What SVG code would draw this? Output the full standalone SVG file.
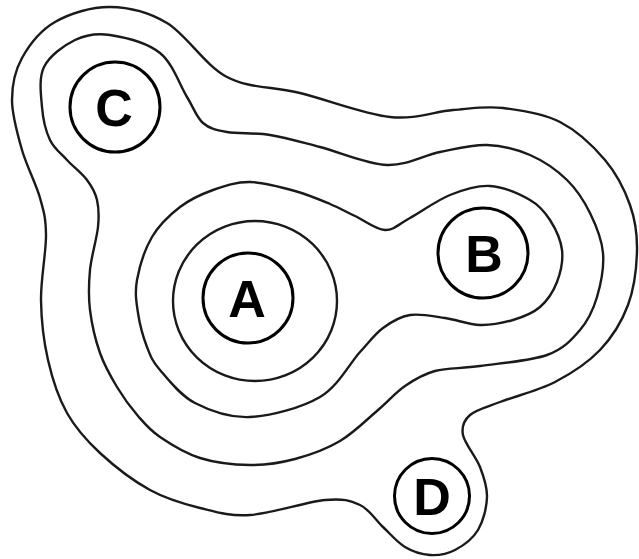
<svg xmlns="http://www.w3.org/2000/svg" width="639" height="559" viewBox="0 0 639 559">
<style>
.contour{fill:none;stroke:#1a1a1a;stroke-width:2.4;stroke-linejoin:round}
.node circle{fill:none;stroke:#000;stroke-width:3}
.node text{font-family:"Liberation Sans",Arial,sans-serif;font-weight:bold;font-size:52px;text-anchor:middle;fill:#000}
</style>
<rect width="639" height="559" fill="#fff"/>
<g id="contours">
<path id="ring4" class="contour" d="M110,7 C128.7,7.2 147.5,11.3 167,23 C186.5,34.7 204.8,65.3 227,77 C249.2,88.7 272.8,86.3 300,93 C327.2,99.7 364.5,114.2 390,117 C415.5,119.8 434.2,111.5 453,110 C471.8,108.5 485.2,106 503,108 C520.8,110 543,113.3 560,122 C577,130.7 593.3,146.2 605,160 C616.7,173.8 624.7,190 630,205 C635.3,220 637.3,233.3 637,250 C636.7,266.7 634.2,288.3 628,305 C621.8,321.7 612.2,337.2 600,350 C587.8,362.8 571.7,373.3 555,382 C538.3,390.7 514.2,396.5 500,402 C485.8,407.5 476.2,409.5 470,415 C463.8,420.5 461.3,426.3 463,435 C464.7,443.7 476,456.7 480,467 C484,477.3 487.3,486.5 487,497 C486.7,507.5 483.3,521.2 478,530 C472.7,538.8 463,545.8 455,550 C447,554.2 438.3,555.5 430,555 C421.7,554.5 412.8,551.7 405,547 C397.2,542.3 390.5,534 383,527 C375.5,520 369.7,509.5 360,505 C350.3,500.5 343.3,498.3 325,500 C306.7,501.7 270.8,513.7 250,515 C229.2,516.3 216.7,512.2 200,508 C183.3,503.8 166.7,499.2 150,490 C133.3,480.8 113.8,465.8 100,453 C86.2,440.2 75.7,428.5 67,413 C58.3,397.5 52.3,378.8 48,360 C43.7,341.2 41.3,320.8 41,300 C40.7,279.2 46.2,252 46,235 C45.8,218 44,212.2 40,198 C36,183.8 26.7,166.3 22,150 C17.3,133.7 12,115.3 12,100 C12,84.7 14.8,71 22,58 C29.2,45 40.3,30.5 55,22 C69.7,13.5 91.3,6.8 110,7 Z"/>
<path id="ring3" class="contour" d="M110,35 C124.2,37.2 147.2,42.7 160,53 C172.8,63.3 179.8,85.3 187,97 C194.2,108.7 196.3,117.2 203,123 C209.7,128.8 215.8,130 227,132 C238.2,134 254.5,132.5 270,135 C285.5,137.5 300.5,142 320,147 C339.5,152 367,164.2 387,165 C407,165.8 423.3,155.3 440,152 C456.7,148.7 472,144.5 487,145 C502,145.5 516.7,149.2 530,155 C543.3,160.8 557,170.3 567,180 C577,189.7 584,200.8 590,213 C596,225.2 601.8,239 603,253 C604.2,267 600.8,284.2 597,297 C593.2,309.8 588.3,320.3 580,330 C571.7,339.7 563.7,349 547,355 C530.3,361 498.7,363.3 480,366 C461.3,368.7 447.5,367.7 435,371 C422.5,374.3 414.5,379.5 405,386 C395.5,392.5 388.8,400.8 378,410 C367.2,419.2 353.8,432.8 340,441 C326.2,449.2 310,455 295,459 C280,463 265.8,465.2 250,465 C234.2,464.8 215,462.7 200,458 C185,453.3 170.3,444 160,437 C149.7,430 145.2,424.3 138,416 C130.8,407.7 123.3,397.5 117,387 C110.7,376.5 104.5,365.8 100,353 C95.5,340.2 91.7,323.8 90,310 C88.3,296.2 88.7,283.8 90,270 C91.3,256.2 96.8,238.7 98,227 C99.2,215.3 98.8,207.8 97,200 C95.2,192.2 92,186.7 87,180 C82,173.3 73.2,166.7 67,160 C60.8,153.3 54.2,148.8 50,140 C45.8,131.2 43,119.2 42,107 C41,94.8 38.5,78.2 44,67 C49.5,55.8 64,45.3 75,40 C86,34.7 95.8,32.8 110,35 Z"/>
<path id="ring2" class="contour" d="M250,182 C263.7,182.2 281.7,187.3 295,191 C308.3,194.7 320,199.8 330,204 C340,208.2 345.8,211.7 355,216 C364.2,220.3 375.8,229.7 385,230 C394.2,230.3 399.2,223.8 410,218 C420.8,212.2 436.7,200.3 450,195 C463.3,189.7 476.7,185.2 490,186 C503.3,186.8 520,194.3 530,200 C540,205.7 544.7,211.7 550,220 C555.3,228.3 560.8,239.7 562,250 C563.2,260.3 560.7,272.5 557,282 C553.3,291.5 547.3,300.7 540,307 C532.7,313.3 523,317 513,320 C503,323 491.3,325.3 480,325 C468.7,324.7 456.7,319.7 445,318 C433.3,316.3 420.3,313.3 410,315 C399.7,316.7 391.3,321.8 383,328 C374.7,334.2 370.5,340.5 360,352 C349.5,363.5 338.3,386.2 320,397 C301.7,407.8 270.8,416 250,417 C229.2,418 210,410.8 195,403 C180,395.2 168,379.3 160,370 C152,360.7 150.7,356.5 147,347 C143.3,337.5 139.7,324.2 138,313 C136.3,301.8 134.7,292.7 137,280 C139.3,267.3 144.8,249.2 152,237 C159.2,224.8 169.8,214.8 180,207 C190.2,199.2 201.3,194.2 213,190 C224.7,185.8 236.3,181.8 250,182 Z"/>
<ellipse id="ring1" class="contour" cx="255" cy="301" rx="82" ry="80"/>
</g>
<g id="node-C" class="node"><circle cx="115" cy="107" r="45"/><text x="114" y="126">C</text></g>
<g id="node-A" class="node"><circle cx="248" cy="298" r="45"/><text x="247" y="317">A</text></g>
<g id="node-B" class="node"><circle cx="483" cy="253" r="45"/><text x="484" y="272">B</text></g>
<g id="node-D" class="node"><circle cx="432" cy="496" r="37.5"/><text x="432" y="515">D</text></g>
</svg>
